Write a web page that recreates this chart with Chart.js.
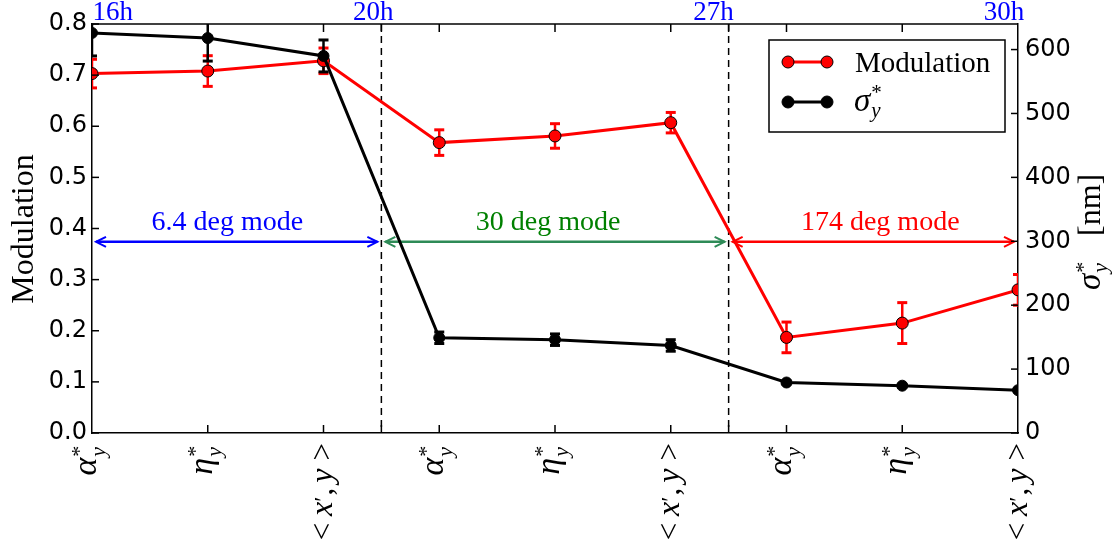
<!DOCTYPE html>
<html>
<head>
<meta charset="utf-8">
<script src="https://cdn.jsdelivr.net/npm/chart.js@4.4.1/dist/chart.umd.min.js"></script>
<style>
  html, body { margin: 0; padding: 0; background: #fff; }
  #wrap { width: 1118px; height: 549px; }
</style>
</head>
<body>
<div id="wrap"><canvas id="myChart" width="1118" height="549"></canvas></div>
<script>
// categories (sub after _, sup after ^)
const categories = ['α_y^*', 'η_y^*', '<x′,y>', 'α_y^*', 'η_y^*', '<x′,y>', 'α_y^*', 'η_y^*', '<x′,y>'];

// Modulation (left axis)
const modulation    = [0.703, 0.708, 0.728, 0.568, 0.581, 0.607, 0.187, 0.215, 0.280];
const modulationErr = [0.028, 0.030, 0.025, 0.025, 0.024, 0.020, 0.030, 0.040, 0.030];

// sigma_y* in nm (right axis)
const sigma    = [626, 618, 590, 149, 146, 137, 79, 74, 67];
const sigmaErr = [36, 36, 25, 9, 9, 9, 2, 2, 2];

// hour labels on top
const hourLabels = ['16h', '20h', '27h', '30h'];
const hourPos = [0.18, 2.43, 5.37, 7.88];

// mode ranges
const modeLabels = ['6.4 deg mode', '30 deg mode', '174 deg mode'];
const modeRanges = [[0, 2.5], [2.5, 5.5], [5.5, 8]];
const modeTextPos = [1.17, 3.94, 6.81];
const modeLevel = 0.374;
const dividers = [2.5, 5.5];

const RED = '#ff0000';
const BLUE = '#0000ff';
const modeColors = ['#0000ff', '#2e8b57', '#ff0000'];
const modeTextColors = ['#0000ff', '#008000', '#ff0000'];
const SERIF = '"Liberation Serif", "DejaVu Serif", serif';

function seg(ctx, x1, y1, x2, y2) {
  ctx.beginPath(); ctx.moveTo(x1, y1); ctx.lineTo(x2, y2); ctx.stroke();
}

function drawErr(ctx, xs, vals, errs, scale, color) {
  ctx.strokeStyle = color;
  ctx.lineWidth = 2.5;
  vals.forEach((v, i) => {
    const px = xs.getPixelForValue(i);
    const top = scale.getPixelForValue(v + errs[i]);
    const bot = scale.getPixelForValue(v - errs[i]);
    seg(ctx, px, top, px, bot);
    ctx.lineWidth = 3;
    seg(ctx, px - 5, top, px + 5, top);
    seg(ctx, px - 5, bot, px + 5, bot);
    ctx.lineWidth = 2.5;
  });
}

function arrowHead(ctx, x, y, dir) {
  ctx.beginPath();
  ctx.moveTo(x - dir * 10, y - 5);
  ctx.lineTo(x, y);
  ctx.lineTo(x - dir * 10, y + 5);
  ctx.stroke();
}

// category label, drawn rotated, reading bottom to top
function drawCatLabel(ctx, label, px, py) {
  ctx.save();
  ctx.translate(px, py);
  ctx.rotate(-Math.PI / 2);
  ctx.fillStyle = '#000';
  ctx.textAlign = 'left';
  ctx.textBaseline = 'alphabetic';
  if (label.includes('_')) {
    const base = label.split('_')[0];
    const sub = label.split('_')[1].split('^')[0];
    const sup = label.split('^')[1];
    ctx.font = 'italic 34px ' + SERIF;
    const w = ctx.measureText(base).width;
    ctx.font = 'italic 22px ' + SERIF;
    const ws = ctx.measureText(sub).width;
    const start = -14 - (w + 1 + ws);
    ctx.font = 'italic 34px ' + SERIF;
    ctx.fillText(base, start, 4);
    ctx.font = 'italic 22px ' + SERIF;
    ctx.fillText(sub, start + w + 1, 13);
    ctx.font = '22px ' + SERIF;
    ctx.fillText(sup, start + w + 1, -6);
  } else {
    const pieces = [
      { t: '<', f: '31px ', gap: 7, dy: 0 },
      { t: 'x', f: 'italic 32px ', gap: 0, dy: 0 },
      { t: '′', f: '24px ', gap: 1, dy: -2 },
      { t: ',', f: '31px ', gap: 5, dy: 0 },
      { t: 'y', f: 'italic 32px ', gap: 8, dy: 0 },
      { t: '>', f: '31px ', gap: 0, dy: 0 }
    ];
    let total = 0;
    pieces.forEach(p => { ctx.font = p.f + SERIF; p.w = ctx.measureText(p.t).width; total += p.w + p.gap; });
    let cx = -10 - total;
    pieces.forEach(p => {
      ctx.font = p.f + SERIF;
      ctx.fillText(p.t, cx, 8.5 + p.dy);
      cx += p.w + p.gap;
    });
  }
  ctx.restore();
}

const decorPlugin = {
  id: 'decor',
  beforeDatasetsDraw(chart) {
    const { ctx, chartArea: a, scales: { x, y, y1 } } = chart;
    ctx.save();
    // dividers
    ctx.strokeStyle = '#000';
    ctx.lineWidth = 1.5;
    ctx.setLineDash([7, 5]);
    dividers.forEach(d => {
      const px = x.getPixelForValue(d);
      seg(ctx, px, a.top, px, a.bottom);
    });
    ctx.setLineDash([]);

    // mode arrows and texts
    const ay = y.getPixelForValue(modeLevel);
    modeRanges.forEach((r, i) => {
      const x1 = x.getPixelForValue(r[0]) + 4;
      const x2 = x.getPixelForValue(r[1]) - 4;
      ctx.strokeStyle = modeColors[i];
      ctx.lineWidth = 2.5;
      seg(ctx, x1, ay, x2, ay);
      ctx.lineWidth = 2;
      arrowHead(ctx, x1, ay, -1);
      arrowHead(ctx, x2, ay, 1);
      ctx.fillStyle = modeTextColors[i];
      ctx.font = '28px ' + SERIF;
      ctx.textAlign = 'center';
      ctx.textBaseline = 'alphabetic';
      ctx.fillText(modeLabels[i], x.getPixelForValue(modeTextPos[i]), ay - 12);
    });

    // error bars, clipped to the plot area
    ctx.beginPath();
    ctx.rect(a.left, a.top, a.right - a.left, a.bottom - a.top);
    ctx.clip();
    drawErr(ctx, x, modulation, modulationErr, y, RED);
    drawErr(ctx, x, sigma, sigmaErr, y1, '#000');
    ctx.restore();
  },
  afterDatasetsDraw(chart) {
    const { ctx, chartArea: a, scales: { x, y, y1 } } = chart;
    ctx.save();
    ctx.strokeStyle = '#000';
    ctx.lineWidth = 1.5;
    // top frame
    seg(ctx, a.left, a.top, a.right, a.top);
    // inward ticks x
    const xt = [1, 2, 2.5, 3, 4, 5, 5.5, 6, 7];
    xt.forEach(v => {
      const px = x.getPixelForValue(v);
      seg(ctx, px, a.bottom, px, a.bottom - 8);
      seg(ctx, px, a.top, px, a.top + 8);
    });
    y.ticks.forEach(t => {
      const py = y.getPixelForValue(t.value);
      seg(ctx, a.left, py, a.left + 7, py);
    });
    y1.ticks.forEach(t => {
      const py = y1.getPixelForValue(t.value);
      seg(ctx, a.right - 7, py, a.right, py);
    });

    // category labels
    categories.forEach((c, i) => drawCatLabel(ctx, c, x.getPixelForValue(i), a.bottom));

    // hour labels
    ctx.fillStyle = BLUE;
    ctx.font = '27px ' + SERIF;
    ctx.textAlign = 'center';
    ctx.textBaseline = 'alphabetic';
    hourLabels.forEach((h, i) => ctx.fillText(h, x.getPixelForValue(hourPos[i]), 20));

    // left title
    ctx.save();
    ctx.translate(33, 229);
    ctx.rotate(-Math.PI / 2);
    ctx.fillStyle = '#000';
    ctx.font = '32px ' + SERIF;
    ctx.textAlign = 'center';
    ctx.fillText('Modulation', 0, 0);
    ctx.restore();

    // right title
    ctx.save();
    ctx.translate(1100, 230);
    ctx.rotate(-Math.PI / 2);
    ctx.fillStyle = '#000';
    ctx.textAlign = 'left';
    ctx.font = 'italic 33px ' + SERIF;
    const ws = ctx.measureText('σ').width;
    ctx.fillText('σ', -60, 0);
    ctx.font = 'italic 22px ' + SERIF;
    ctx.fillText('y', -60 + ws + 1, 7);
    ctx.font = '22px ' + SERIF;
    ctx.fillText('*', -60 + ws + 1, -10);
    ctx.font = '32px ' + SERIF;
    ctx.fillText('[nm]', -6, 0);
    ctx.restore();

    // legend
    ctx.fillStyle = '#fff';
    ctx.fillRect(769, 40, 236, 92);
    ctx.strokeStyle = '#000';
    ctx.lineWidth = 1.5;
    ctx.strokeRect(769, 40, 236, 92);
    const entries = [{ c: RED, y: 62 }, { c: '#000', y: 102 }];
    entries.forEach(e => {
      ctx.strokeStyle = e.c;
      ctx.lineWidth = 3;
      seg(ctx, 788, e.y, 827, e.y);
      [788, 827].forEach(mx => {
        ctx.beginPath();
        ctx.arc(mx, e.y, 6, 0, Math.PI * 2);
        ctx.fillStyle = e.c;
        ctx.fill();
        ctx.lineWidth = 1;
        ctx.strokeStyle = '#000';
        ctx.stroke();
      });
    });
    ctx.fillStyle = '#000';
    ctx.textAlign = 'left';
    ctx.font = '29px ' + SERIF;
    ctx.fillText('Modulation', 855, 72);
    ctx.font = 'italic 33px ' + SERIF;
    const wl = ctx.measureText('σ').width;
    ctx.fillText('σ', 854, 111);
    ctx.font = 'italic 21px ' + SERIF;
    ctx.fillText('y', 854 + wl + 1, 117);
    ctx.font = '21px ' + SERIF;
    ctx.fillText('*', 854 + wl + 1, 99);
    ctx.restore();
  }
};

new Chart(document.getElementById('myChart'), {
  type: 'line',
  data: {
    labels: categories,
    datasets: [
      {
        label: 'Modulation',
        data: modulation,
        yAxisID: 'y',
        borderColor: RED,
        borderWidth: 3,
        pointRadius: 6,
        pointBackgroundColor: RED,
        pointBorderColor: '#000',
        pointBorderWidth: 1,
        tension: 0,
        clip: 0,
        order: 2
      },
      {
        label: 'σy*',
        data: sigma,
        yAxisID: 'y1',
        borderColor: '#000',
        borderWidth: 3,
        pointRadius: 5.5,
        pointBackgroundColor: '#000',
        pointBorderColor: '#000',
        pointBorderWidth: 1,
        tension: 0,
        clip: 0,
        order: 1
      }
    ]
  },
  options: {
    responsive: false,
    animation: false,
    devicePixelRatio: 1,
    layout: { padding: { top: 24, left: 0, right: 0, bottom: 0 } },
    plugins: { legend: { display: false }, tooltip: { enabled: false } },
    scales: {
      x: {
        type: 'category',
        offset: false,
        grid: { display: false },
        border: { display: true, color: '#000', width: 1.5 },
        ticks: { display: false },
        afterFit: s => { s.height = 116; }
      },
      y: {
        position: 'left',
        min: 0,
        max: 0.8,
        grid: { drawOnChartArea: false, drawTicks: false },
        border: { display: true, color: '#000', width: 1.5 },
        ticks: {
          stepSize: 0.1,
          padding: 5,
          color: '#000',
          font: { family: '"DejaVu Sans"', size: 24 },
          callback: v => Number(v).toFixed(1)
        },
        afterFit: s => { s.width = 92; }
      },
      y1: {
        position: 'right',
        min: 0,
        max: 640,
        grid: { drawOnChartArea: false, drawTicks: false },
        border: { display: true, color: '#000', width: 1.5 },
        ticks: {
          stepSize: 100,
          includeBounds: false,
          padding: 7,
          color: '#000',
          font: { family: '"DejaVu Sans"', size: 24 }
        },
        afterFit: s => { s.width = 100; }
      }
    }
  },
  plugins: [decorPlugin]
});
</script>
</body>
</html>
